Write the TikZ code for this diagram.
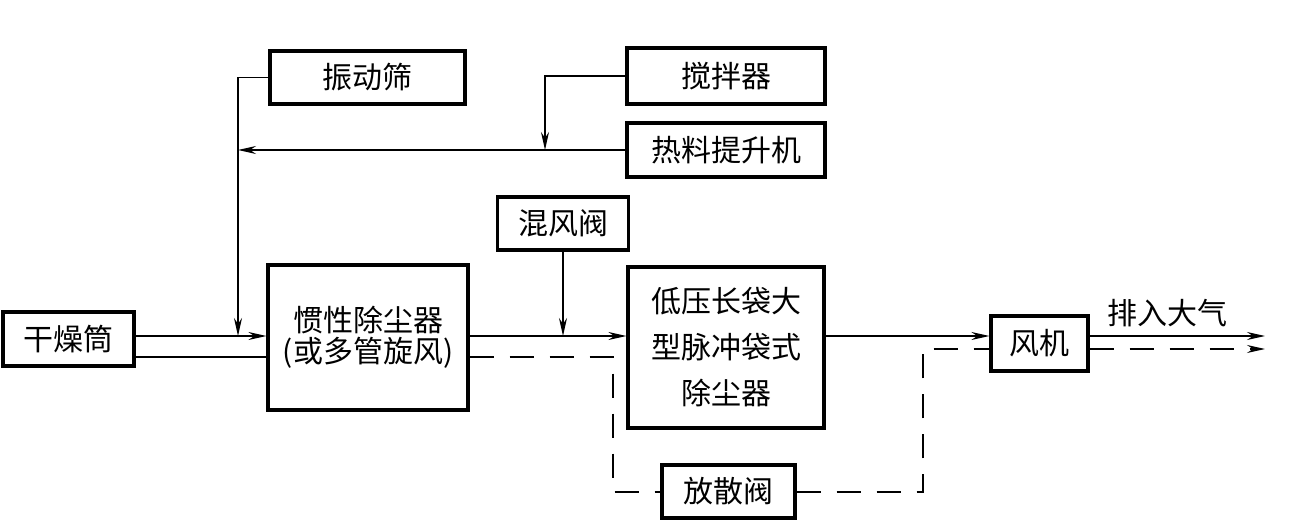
\documentclass[tikz,border=0pt]{standalone}
\usepackage{fontspec}
\newfontfamily\cjk{Noto Sans CJK SC}
\usetikzlibrary{arrows.meta}
\begin{document}
\begin{tikzpicture}[x=1pt,y=-1pt,
  box/.style={draw,line width=3.2pt,inner sep=0pt,align=center,
    font=\cjk\fontsize{30}{46}\selectfont},
  lbl/.style={inner sep=0pt,font=\cjk\fontsize{30}{36}\selectfont},
  conn/.style={line width=1.6pt},
  arr/.style={-{Stealth[length=18pt,width=8pt]}},
  dsh/.style={dash pattern=on 24pt off 16pt}]
\useasboundingbox (0,0) rectangle (1299,529);
% boxes
\node[box,minimum width=131pt,minimum height=54pt] (dry) at (68.5,339) {干燥筒};
\node[box,minimum width=200pt,minimum height=145pt,font=\cjk\fontsize{30}{31}\selectfont] (inert) at (368,337.5) {惯性除尘器\\(或多管旋风)};
\node[box,minimum width=195pt,minimum height=53pt] (shaker) at (367.5,77.5) {振动筛};
\node[box,minimum width=198pt,minimum height=56pt] (mixer) at (726,76) {搅拌器};
\node[box,minimum width=198pt,minimum height=54pt] (elev) at (726,150) {热料提升机};
\node[box,minimum width=131pt,minimum height=53pt] (mixv) at (563,223.5) {混风阀};
\node[box,minimum width=196pt,minimum height=161pt] (bag) at (726,347.5) {低压长袋大\\型脉冲袋式\\除尘器};
\node[box,minimum width=97pt,minimum height=55pt] (fan) at (1039.5,343.5) {风机};
\node[box,minimum width=133pt,minimum height=53pt] (vent) at (728.5,491.5) {放散阀};
\node[lbl] (air) at (1167,313) {排入大气};
% junction coordinates
\coordinate (sj) at (238,336);
\coordinate (mj) at (545,150);
\coordinate (dl) at (613,492);
\coordinate (dr) at (923,349);
\coordinate (out1) at (1265,336);
\coordinate (out2) at (1265,349);
% connectors
\draw[conn,arr] (dry.east |- 0,336) -- (inert.west |- 0,336);
\draw[conn] (dry.east |- 0,357) -- (inert.west |- 0,357);
\draw[conn,arr] (shaker.west) -| (sj);
\draw[conn,arr] (elev.west) -- (elev.west -| sj);
\draw[conn,arr] (mixer.west) -| (mj);
\draw[conn,arr] (inert.east |- 0,336) -- (bag.west |- 0,336);
\draw[conn,arr] (mixv.south) -- (mixv.south |- 0,336);
\draw[conn,dsh] (inert.east |- 0,357) -| (dl) -- (vent.west |- dl);
\draw[conn,dsh] (vent.east |- dl) -| (dr) -- (fan.west |- dr);
\draw[conn,arr] (bag.east |- 0,336) -- (fan.west |- 0,336);
\draw[conn,arr] (fan.east |- out1) -- (out1);
\draw[conn,dsh,arr] (fan.east |- out2) -- (out2);
\end{tikzpicture}
\end{document}
